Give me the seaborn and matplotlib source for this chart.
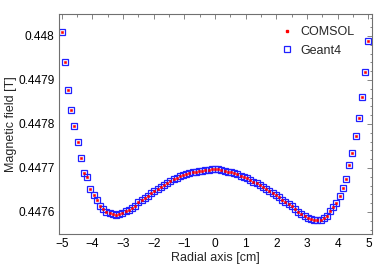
import numpy as np
import pandas as pd
import matplotlib
matplotlib.use("Agg")
import matplotlib.pyplot as plt
import seaborn as sns
from matplotlib.ticker import MultipleLocator
from matplotlib.lines import Line2D

# Radial positions [cm] (97 samples across -5 .. 5)
radial_cm = np.round(np.linspace(-5.0, 5.0, 97), 4)

comsol_field = [
    0.4480090, 0.4479397, 0.4478773, 0.4478312, 0.4477950, 0.4477589, 0.4477227, 0.4476881,
    0.4476798, 0.4476520, 0.4476391, 0.4476271, 0.4476142, 0.4476068, 0.4476007, 0.4475971,
    0.4475948, 0.4475939, 0.4475955, 0.4475984, 0.4476016, 0.4476052, 0.4476084, 0.4476129,
    0.4476215, 0.4476278, 0.4476325, 0.4476373, 0.4476423, 0.4476470, 0.4476520, 0.4476567,
    0.4476615, 0.4476662, 0.4476710, 0.4476746, 0.4476782, 0.4476818, 0.4476843, 0.4476868,
    0.4476893, 0.4476906, 0.4476918, 0.4476929, 0.4476940, 0.4476949, 0.4476960, 0.4476967,
    0.4476972, 0.4476972, 0.4476954, 0.4476936, 0.4476918, 0.4476899, 0.4476881, 0.4476856,
    0.4476827, 0.4476798, 0.4476764, 0.4476728, 0.4476692, 0.4476653, 0.4476610, 0.4476567,
    0.4476522, 0.4476475, 0.4476427, 0.4476377, 0.4476330, 0.4476280, 0.4476233, 0.4476181,
    0.4476127, 0.4476075, 0.4476005, 0.4475955, 0.4475903, 0.4475871, 0.4475842, 0.4475826,
    0.4475826, 0.4475826, 0.4475858, 0.4475916, 0.4476016, 0.4476113, 0.4476203, 0.4476355,
    0.4476549, 0.4476746, 0.4477062, 0.4477333, 0.4477724, 0.4478140, 0.4478606, 0.4479171,
    0.4479894,
]

geant4_field = [
    0.4480090, 0.4479397, 0.4478773, 0.4478312, 0.4477950, 0.4477589, 0.4477227, 0.4476881,
    0.4476798, 0.4476520, 0.4476391, 0.4476271, 0.4476142, 0.4476068, 0.4476007, 0.4475971,
    0.4475948, 0.4475939, 0.4475955, 0.4475984, 0.4476016, 0.4476052, 0.4476084, 0.4476129,
    0.4476215, 0.4476278, 0.4476325, 0.4476373, 0.4476423, 0.4476470, 0.4476520, 0.4476567,
    0.4476615, 0.4476662, 0.4476710, 0.4476746, 0.4476782, 0.4476818, 0.4476843, 0.4476868,
    0.4476893, 0.4476906, 0.4476918, 0.4476929, 0.4476940, 0.4476949, 0.4476960, 0.4476967,
    0.4476972, 0.4476972, 0.4476954, 0.4476936, 0.4476918, 0.4476899, 0.4476881, 0.4476856,
    0.4476827, 0.4476798, 0.4476764, 0.4476728, 0.4476692, 0.4476653, 0.4476610, 0.4476567,
    0.4476522, 0.4476475, 0.4476427, 0.4476377, 0.4476330, 0.4476280, 0.4476233, 0.4476181,
    0.4476127, 0.4476075, 0.4476005, 0.4475955, 0.4475903, 0.4475871, 0.4475842, 0.4475826,
    0.4475826, 0.4475826, 0.4475858, 0.4475916, 0.4476016, 0.4476113, 0.4476203, 0.4476355,
    0.4476549, 0.4476746, 0.4477062, 0.4477333, 0.4477724, 0.4478140, 0.4478606, 0.4479171,
    0.4479894,
]

x_ticks = [-5, -4, -3, -2, -1, 0, 1, 2, 3, 4, 5]
y_ticks = [0.4476, 0.4477, 0.4478, 0.4479, 0.4480]
y_tick_labels = ["0.4476", "0.4477", "0.4478", "0.4479", "0.448"]

sns.set_theme(style="white")
plt.rcParams["font.family"] = ["Liberation Sans", "DejaVu Sans"]

fig = plt.figure(figsize=(3.83, 2.68), dpi=100)
ax = fig.add_axes([0.153, 0.127, 0.817, 0.821])

df_g = pd.DataFrame({"r": radial_cm, "B": geant4_field})
df_c = pd.DataFrame({"r": radial_cm, "B": comsol_field})

sns.lineplot(data=df_g, x="r", y="B", ax=ax, estimator=None, linestyle="none",
             marker="s", markersize=5, markerfacecolor="none",
             markeredgecolor="#2020ff", markeredgewidth=0.9, legend=False)
sns.lineplot(data=df_c, x="r", y="B", ax=ax, estimator=None, linestyle="none",
             marker="s", markersize=2.1, markerfacecolor="#ff0000",
             markeredgecolor="#ff0000", markeredgewidth=0.4, legend=False)

ax.set_xlim(-5.1, 5.1)
ax.set_ylim(0.44755, 0.44805)
ax.set_xticks(x_ticks)
ax.set_yticks(y_ticks)
ax.set_yticklabels(y_tick_labels)
ax.xaxis.set_minor_locator(MultipleLocator(0.5))
ax.yaxis.set_minor_locator(MultipleLocator(0.00002))
ax.tick_params(which="both", direction="in", top=True, right=True,
               color="#707070", labelsize=8.6, labelcolor="black", width=0.6)
ax.tick_params(which="major", length=3.5, pad=3)
ax.tick_params(which="minor", length=1.8)
for s in ax.spines.values():
    s.set_color("#707070")
    s.set_linewidth(0.8)

ax.set_xlabel("Radial axis [cm]", fontsize=9, labelpad=1)
ax.set_ylabel("Magnetic field [T]", fontsize=9, labelpad=1)

handles = [
    Line2D([], [], linestyle="none", marker="s", markersize=2.1,
           markerfacecolor="#ff0000", markeredgecolor="#ff0000"),
    Line2D([], [], linestyle="none", marker="s", markersize=5,
           markerfacecolor="none", markeredgecolor="#2020ff", markeredgewidth=0.9),
]
ax.legend(handles, ["COMSOL", "Geant4"], loc="upper right", frameon=False,
          fontsize=9, handlelength=0.8, handletextpad=0.7, labelspacing=0.55,
          borderaxespad=0.3, bbox_to_anchor=(0.975, 0.985))

fig.savefig("out.png", dpi=100)
